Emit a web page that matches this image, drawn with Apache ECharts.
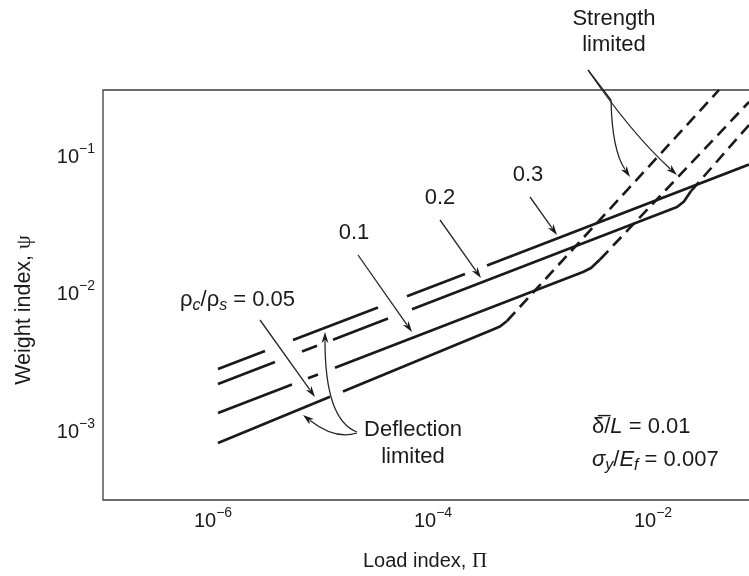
<!DOCTYPE html>
<html>
<head>
<meta charset="utf-8">
<script src="https://cdn.jsdelivr.net/npm/echarts@6/dist/echarts.min.js"></script>
<style>
  html, body { margin: 0; padding: 0; background: #ffffff; }
  #chart { width: 749px; height: 576px; }
</style>
</head>
<body>
<div id="chart"></div>
<script>
// Sandwich beam design chart: weight index psi against load index Pi (log-log).
// Each curve is one core/face density ratio; a null entry breaks the stroke
// where an annotation pointer passes over it.
const ratioLabels = ['0.05', '0.1', '0.2', '0.3'];

// Deflection-limited branches (solid)
const deflect005 = [[1.110e-6, 8.318e-4], [1.158e-5, 1.803e-3], null,
  [1.519e-5, 1.974e-3], [3.511e-4, 5.566e-3], [4.065e-4, 5.852e-3], [4.707e-4, 6.417e-3]];
const deflect01 = [[1.110e-6, 1.375e-3], [5.225e-6, 2.219e-3], null,
  [7.304e-6, 2.457e-3], [9.004e-6, 2.624e-3], null,
  [1.285e-5, 2.930e-3], [2.310e-3, 1.458e-2], [2.731e-3, 1.558e-2], [3.297e-3, 1.797e-2]];
const deflect02 = [[1.110e-6, 2.234e-3], [3.661e-6, 3.229e-3], null,
  [6.444e-6, 3.843e-3], [8.818e-6, 4.236e-3], null,
  [1.233e-5, 4.691e-3], [3.899e-5, 6.691e-3], null,
  [6.444e-5, 7.818e-3], [1.653e-2, 4.329e-2], [1.913e-2, 4.747e-2], [2.215e-2, 5.656e-2]];
const deflect03 = [[1.110e-6, 2.872e-3], [2.970e-6, 3.889e-3], null,
  [5.336e-6, 4.660e-3], [3.162e-5, 8.059e-3], null,
  [5.801e-5, 9.719e-3], [1.954e-4, 1.412e-2], null,
  [3.097e-4, 1.628e-2], [7.458e-2, 8.805e-2]];

// Strength-limited branches (dashed)
const strength005 = [[4.707e-4, 6.417e-3], [3.981e-2, 0.3072]];
const strength01 = [[3.297e-3, 1.797e-2], [7.458e-2, 0.2512]];
const strength02 = [[2.215e-2, 5.656e-2], [7.458e-2, 0.1709]];

// Decade labels shown on each axis (exponents of ten)
const xTickExponents = [-6, -4, -2];
const yTickExponents = [-3, -2, -1];

const INK = '#1a1a1a';
const SANS = '"Liberation Sans", Arial, Helvetica, sans-serif';
const SERIF = '"Liberation Serif", "Times New Roman", serif';

function decadeFormatter(shown) {
  return function (value) {
    const lg = Math.log10(value);
    const e = Math.round(lg);
    if (Math.abs(lg - e) > 1e-6 || shown.indexOf(e) < 0) return '';
    return '{b|10}{s|\u2212' + (-e) + '}';
  };
}
const tickRich = {
  b: { fontSize: 20, fontFamily: SANS, color: INK, lineHeight: 30 },
  s: { fontSize: 14, fontFamily: SANS, color: INK, lineHeight: 14, padding: [0, 0, 16, 0] }
};

function solid(name, data) {
  return {
    type: 'line', name: name, data: data, symbol: 'none', connectNulls: false,
    clip: true, silent: true,
    lineStyle: { color: INK, width: 2.7, cap: 'butt', join: 'round' }
  };
}
function dashed(name, data) {
  return {
    type: 'line', name: name, data: data, symbol: 'none',
    clip: true, silent: true,
    lineStyle: { color: INK, width: 2.6, type: [12, 7], cap: 'butt' }
  };
}

// Annotation pointers (pixel positions on the page)
const pointers = [
  { from: [260, 320], to: [315, 397] },                    // 0.05
  { from: [358, 255], to: [412, 332] },                    // 0.1
  { from: [440, 220], to: [481, 278] },                    // 0.2
  { from: [530, 197], to: [557, 235] },                    // 0.3
  { from: [357, 433], ctrl: [335, 440], to: [303, 415] },  // deflection limited
  { from: [357, 432], ctrl: [325, 420], to: [325, 332] },  // deflection limited
  { from: [611, 100], ctrl: [612, 150], to: [630, 177] },  // strength limited
  { from: [588, 70], ctrl: [631, 133], to: [677, 175] }    // strength limited
];
const plainStrokes = [
  { from: [588, 70], to: [611, 100] }
];

function pointerGraphics() {
  const out = [];
  const stroke = { stroke: '#262626', lineWidth: 1.3, fill: null };
  pointers.forEach(function (p) {
    const back = p.ctrl || p.from;
    const dx = p.to[0] - back[0], dy = p.to[1] - back[1];
    const len = Math.hypot(dx, dy);
    const ux = dx / len, uy = dy / len;
    const hl = 11, hw = 3.4;
    const bx = p.to[0] - ux * hl, by = p.to[1] - uy * hl;
    const ex = bx + ux * 2, ey = by + uy * 2;
    if (p.ctrl) {
      out.push({ type: 'bezierCurve', z: 20, silent: true,
        shape: { x1: p.from[0], y1: p.from[1], cpx1: p.ctrl[0], cpy1: p.ctrl[1], x2: ex, y2: ey },
        style: stroke });
    } else {
      out.push({ type: 'line', z: 20, silent: true,
        shape: { x1: p.from[0], y1: p.from[1], x2: ex, y2: ey }, style: stroke });
    }
    out.push({ type: 'polygon', z: 20, silent: true,
      shape: { points: [[p.to[0], p.to[1]], [bx - uy * hw, by + ux * hw], [bx + ux * 3, by + uy * 3], [bx + uy * hw, by - ux * hw]] },
      style: { fill: INK, stroke: null } });
  });
  plainStrokes.forEach(function (p) {
    out.push({ type: 'line', z: 20, silent: true,
      shape: { x1: p.from[0], y1: p.from[1], x2: p.to[0], y2: p.to[1] }, style: stroke });
  });
  return out;
}

function label(text, x, y) {
  return {
    type: 'text', z: 30, silent: true,
    style: { text: text, x: x, y: y, fill: INK, font: '22px ' + SANS, align: 'center', verticalAlign: 'middle' }
  };
}

const annoRich = {
  n: { fontSize: 22, fontFamily: SANS, fill: INK, lineHeight: 30 },
  i: { fontSize: 22, fontFamily: SANS, fontStyle: 'italic', fill: INK, lineHeight: 30 },
  sub: { fontSize: 16, fontFamily: SANS, fontStyle: 'italic', fill: INK, lineHeight: 14, padding: [12, 0, 0, 0] }
};

const texts = [
  label('Strength', 614, 19),
  label('limited', 614, 45),
  label(ratioLabels[3], 528, 175),
  label(ratioLabels[2], 440, 198),
  label(ratioLabels[1], 354, 233),
  label('Deflection', 413, 430),
  label('limited', 413, 457),
  { type: 'text', z: 30, silent: true,
    style: { text: '{n|\u03c1}{sub|c}{n|/\u03c1}{sub|s}{n| = ' + ratioLabels[0] + '}', x: 180, y: 300,
      align: 'left', verticalAlign: 'middle', rich: annoRich } },
  { type: 'text', z: 30, silent: true,
    style: { text: '{n|\u03b4\u0305/}{i|L}{n| = 0.01}', x: 592, y: 427,
      align: 'left', verticalAlign: 'middle', rich: annoRich } },
  { type: 'text', z: 30, silent: true,
    style: { text: '{i|\u03c3}{sub|y}{n|/}{i|E}{sub|f}{n| = 0.007}', x: 592, y: 460,
      align: 'left', verticalAlign: 'middle', rich: annoRich } },
  { type: 'text', z: 30, silent: true,
    style: { text: '{a|Load index, }{p|\u03a0}', x: 425, y: 561, align: 'center', verticalAlign: 'middle',
      rich: { a: { fontSize: 20, fontFamily: SANS, fill: INK }, p: { fontSize: 21, fontFamily: SERIF, fill: INK } } } },
  { type: 'text', z: 30, silent: true, x: 24, y: 310, rotation: Math.PI / 2,
    style: { text: '{a|Weight index, }{p|\u03c8}', x: 0, y: 0, align: 'center', verticalAlign: 'middle',
      rich: { a: { fontSize: 21.5, fontFamily: SANS, fill: INK }, p: { fontSize: 22, fontFamily: SERIF, fill: INK } } } }
];

const chart = echarts.init(document.getElementById('chart'), null, { renderer: 'canvas' });
chart.setOption({
  animation: false,
  backgroundColor: '#ffffff',
  grid: {
    left: 103, top: 90, bottom: 76, right: -60,
    outerBoundsMode: 'none', containLabel: false,
    show: true, borderColor: '#3c3c3c', borderWidth: 1.3, backgroundColor: 'transparent'
  },
  xAxis: {
    type: 'log', logBase: 10, min: 1e-7, max: Math.pow(10, -0.5818),
    axisLine: { show: false }, axisTick: { show: false }, splitLine: { show: false },
    axisLabel: { margin: 6, formatter: decadeFormatter(xTickExponents), rich: tickRich,
      showMinLabel: false, showMaxLabel: false, hideOverlap: false }
  },
  yAxis: {
    type: 'log', logBase: 10, min: Math.pow(10, -3.4945), max: Math.pow(10, -0.5127),
    axisLine: { show: false }, axisTick: { show: false }, splitLine: { show: false },
    axisLabel: { margin: 8, formatter: decadeFormatter(yTickExponents), rich: tickRich,
      showMinLabel: false, showMaxLabel: false, hideOverlap: false }
  },
  series: [
    solid('\u03c1c/\u03c1s = 0.05', deflect005),
    solid('\u03c1c/\u03c1s = 0.1', deflect01),
    solid('\u03c1c/\u03c1s = 0.2', deflect02),
    solid('\u03c1c/\u03c1s = 0.3', deflect03),
    dashed('\u03c1c/\u03c1s = 0.05 strength', strength005),
    dashed('\u03c1c/\u03c1s = 0.1 strength', strength01),
    dashed('\u03c1c/\u03c1s = 0.2 strength', strength02)
  ],
  graphic: { elements: pointerGraphics().concat(texts) }
});
</script>
</body>
</html>
